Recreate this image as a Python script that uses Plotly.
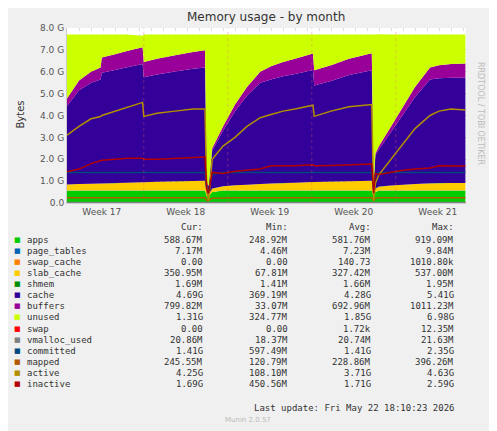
import plotly.graph_objects as go

G = 1e9
days = [0,1,2,2.8,2.9,4,5,6.3,6.4,7.5,9,10.5,11.5,11.65,11.8,12.1,13,14,15,16.1,17,18,19,20.5,20.6,22,23.5,25.4,25.55,25.7,26,27,28,29,30.25,31,32,33.2]
apps = [0.56]*13 + [0.3,0.3,0.5] + [0.56]*12 + [0.3,0.5] + [0.56]*8
page_tables = [0.007]*38
swap_cache = [0.0]*38
slab_cache = [0.28,0.3,0.31,0.32,0.32,0.34,0.36,0.38,0.38,0.4,0.42,0.44,0.45,0.1,0.07,0.15,0.2,0.24,0.27,0.3,0.32,0.34,0.36,0.39,0.39,0.41,0.43,0.45,0.07,0.15,0.18,0.23,0.27,0.3,0.33,0.34,0.35,0.35]
shmem = [0.0017]*38
cache = [3.58,4.28,4.62,4.76,5.06,5.17,5.28,5.41,4.8,4.91,5.02,5.13,5.18,0.54,0.37,1.74,2.53,3.39,4.06,4.63,4.76,4.89,4.97,5.12,4.41,4.6,4.85,5.05,0.37,1.52,1.71,2.45,3.21,3.98,4.75,4.79,4.81,4.81]
buffers = [0.35,0.45,0.5,0.55,0.7,0.72,0.74,0.76,0.7,0.72,0.74,0.76,0.78,0.05,0.03,0.1,0.2,0.3,0.4,0.5,0.6,0.65,0.7,0.75,0.7,0.72,0.75,0.78,0.03,0.1,0.15,0.25,0.35,0.45,0.55,0.6,0.62,0.65]
unused = [2.92,2.1,1.7,1.5,1.05,0.9,0.75,0.53,1.25,1.1,0.95,0.8,0.72,6.7,6.92,5.2,4.2,3.2,2.4,1.7,1.45,1.25,1.1,0.87,1.63,1.4,1.1,0.85,6.92,5.42,5.1,4.2,3.3,2.4,1.5,1.4,1.35,1.32]
swap = [0.0]*38
vmalloc_used = [0.02]*38
committed = [1.4]*13 + [0.6,0.6,1.3] + [1.4]*12 + [0.6,1.3] + [1.4]*8
mapped = [0.24]*13 + [0.12,0.12,0.22] + [0.24]*12 + [0.12,0.22] + [0.24]*8
active = [3.1,3.5,3.85,3.95,4.0,4.2,4.35,4.6,3.96,4.1,4.2,4.3,4.3,0.5,0.11,2.0,2.6,3.0,3.5,3.9,4.05,4.2,4.3,4.47,3.96,4.2,4.4,4.5,0.11,0.9,1.3,2.0,2.7,3.4,4.0,4.2,4.3,4.25]
inactive = [1.43,1.55,1.8,1.95,1.95,2.0,2.05,2.05,2.0,2.0,2.05,2.1,2.1,0.6,0.45,1.4,1.35,1.45,1.5,1.55,1.7,1.7,1.7,1.75,1.7,1.72,1.75,1.78,0.45,1.35,1.3,1.4,1.5,1.55,1.6,1.7,1.68,1.69]

week_pos = [2.9, 9.9, 16.9, 23.9, 30.9]
week_labels = ["Week 17", "Week 18", "Week 19", "Week 20", "Week 21"]
week_bounds = [6.4, 13.4, 20.4, 27.4]

names = ["apps","page_tables","swap_cache","slab_cache","shmem","cache","buffers","unused","swap","vmalloc_used","committed","mapped","active","inactive"]
colors = ["#00CC00","#0066B3","#FF8000","#FFCC00","#008F00","#330099","#990099","#CCFF00","#FF0000","#808080","#00487D","#B35A00","#B38F00","#B30000"]
cur = ["588.67M","7.17M","0.00","350.95M","1.69M","4.69G","799.82M","1.31G","0.00","20.86M","1.41G","245.55M","4.25G","1.69G"]
mn = ["248.92M","4.46M","0.00","67.81M","1.41M","369.19M","33.07M","324.77M","0.00","18.37M","597.49M","120.79M","108.10M","450.56M"]
avg = ["581.76M","7.23M","140.73","327.42M","1.66M","4.28G","692.96M","1.85G","1.72k","20.74M","1.41G","228.86M","3.71G","1.71G"]
mx = ["919.09M","9.84M","1010.80k","537.00M","1.95M","5.41G","1011.23M","6.98G","12.35M","21.63M","2.35G","396.26M","4.63G","2.59G"]

stacked = [apps,page_tables,swap_cache,slab_cache,shmem,cache,buffers,unused]
lines = [swap,vmalloc_used,committed,mapped,active,inactive]

fig = go.Figure()
for i, s in enumerate(stacked):
    fig.add_trace(go.Scatter(x=days, y=[v*G for v in s], stackgroup="a", mode="none",
                             fillcolor=colors[i], line=dict(width=0), name=names[i]))
for j, s in enumerate(lines):
    fig.add_trace(go.Scatter(x=days, y=[v*G for v in s], mode="lines",
                             line=dict(color=colors[8+j], width=1.5), name=names[8+j]))

OFF = 8  # page body margin
W, H = 497, 431
L, R, T, B = 67-OFF, 466-OFF, 28-OFF, 203-OFF
def px(x): return (x-OFF-L)/(R-L)
def py(y): return (B-(y-OFF))/(B-T)

ann = []
font = dict(family="DejaVu Sans Mono", size=9, color="#333333")
ann.append(dict(x=px(266), y=py(17), xref="paper", yref="paper", text="Memory usage - by month",
                showarrow=False, font=dict(family="DejaVu Sans", size=12, color="#333333"), xanchor="center", yanchor="middle"))
ann.append(dict(x=px(12), y=py(115), xref="paper", yref="paper", text="Bytes", textangle=-90,
                showarrow=False, font=dict(family="DejaVu Sans", size=10, color="#333333")))
ann.append(dict(x=px(487), y=py(60), xref="paper", yref="paper", text="RRDTOOL / TOBI OETIKER", textangle=90,
                showarrow=False, font=dict(family="DejaVu Sans", size=8, color="#BBBBBB")))
cols_x = [205, 290, 373, 456]
for k, hdr in enumerate(["Cur:", "Min:", "Avg:", "Max:"]):
    ann.append(dict(x=px(cols_x[k]), y=py(227), xref="paper", yref="paper", text=hdr,
                    showarrow=False, font=font, xanchor="right", yanchor="middle"))
for i, n in enumerate(names):
    yy = py(240 + i*11.07)
    ann.append(dict(x=px(17), y=yy, xref="paper", yref="paper", text="■", showarrow=False,
                    font=dict(family="DejaVu Sans", size=7, color=colors[i]), xanchor="center", yanchor="middle"))
    ann.append(dict(x=px(25), y=yy, xref="paper", yref="paper", text=n, showarrow=False,
                    font=font, xanchor="left", yanchor="middle"))
    for k, col in enumerate([cur, mn, avg, mx]):
        ann.append(dict(x=px(cols_x[k]), y=yy, xref="paper", yref="paper", text=col[i],
                        showarrow=False, font=font, xanchor="right", yanchor="middle"))
ann.append(dict(x=px(456), y=py(408), xref="paper", yref="paper", text="Last update: Fri May 22 18:10:23 2026",
                showarrow=False, font=font, xanchor="right", yanchor="middle"))
ann.append(dict(x=px(248), y=py(420), xref="paper", yref="paper", text="Munin 2.0.57",
                showarrow=False, font=dict(family="DejaVu Sans", size=7, color="#BBBBBB"), xanchor="center", yanchor="middle"))

shapes = [dict(type="line", xref="x", yref="paper", x0=b, x1=b, y0=0, y1=1,
               line=dict(color="rgba(230,100,100,0.35)", width=1, dash="dot"), layer="above") for b in week_bounds]

fig.update_layout(
    width=W, height=H, margin=dict(l=L, r=W-R, t=T, b=H-B),
    paper_bgcolor="#F0F0F0", plot_bgcolor="#FFFFFF", showlegend=False,
    annotations=ann, shapes=shapes,
    xaxis=dict(range=[0, 33.25], tickvals=week_pos, ticktext=week_labels, showgrid=False,
               ticks="", tickfont=dict(family="DejaVu Sans", size=9, color="#555555"),
               showline=True, linecolor="#CCCCCC",
               minor=dict(dtick=1, showgrid=True, gridcolor="rgba(200,200,200,0.6)", griddash="dot")),
    yaxis=dict(range=[0, 8.0*G], tickvals=[i*G for i in range(9)],
               ticktext=["0.0"]+[f"{i}.0 G" for i in range(1,9)],
               tickfont=dict(family="DejaVu Sans", size=9, color="#555555"),
               gridcolor="rgba(230,100,100,0.5)", griddash="dot", zeroline=False,
               showline=True, linecolor="#CCCCCC",
               minor=dict(dtick=0.5*G, showgrid=True, gridcolor="rgba(220,220,220,0.6)", griddash="dot")),
)
fig.write_html("out.html")
